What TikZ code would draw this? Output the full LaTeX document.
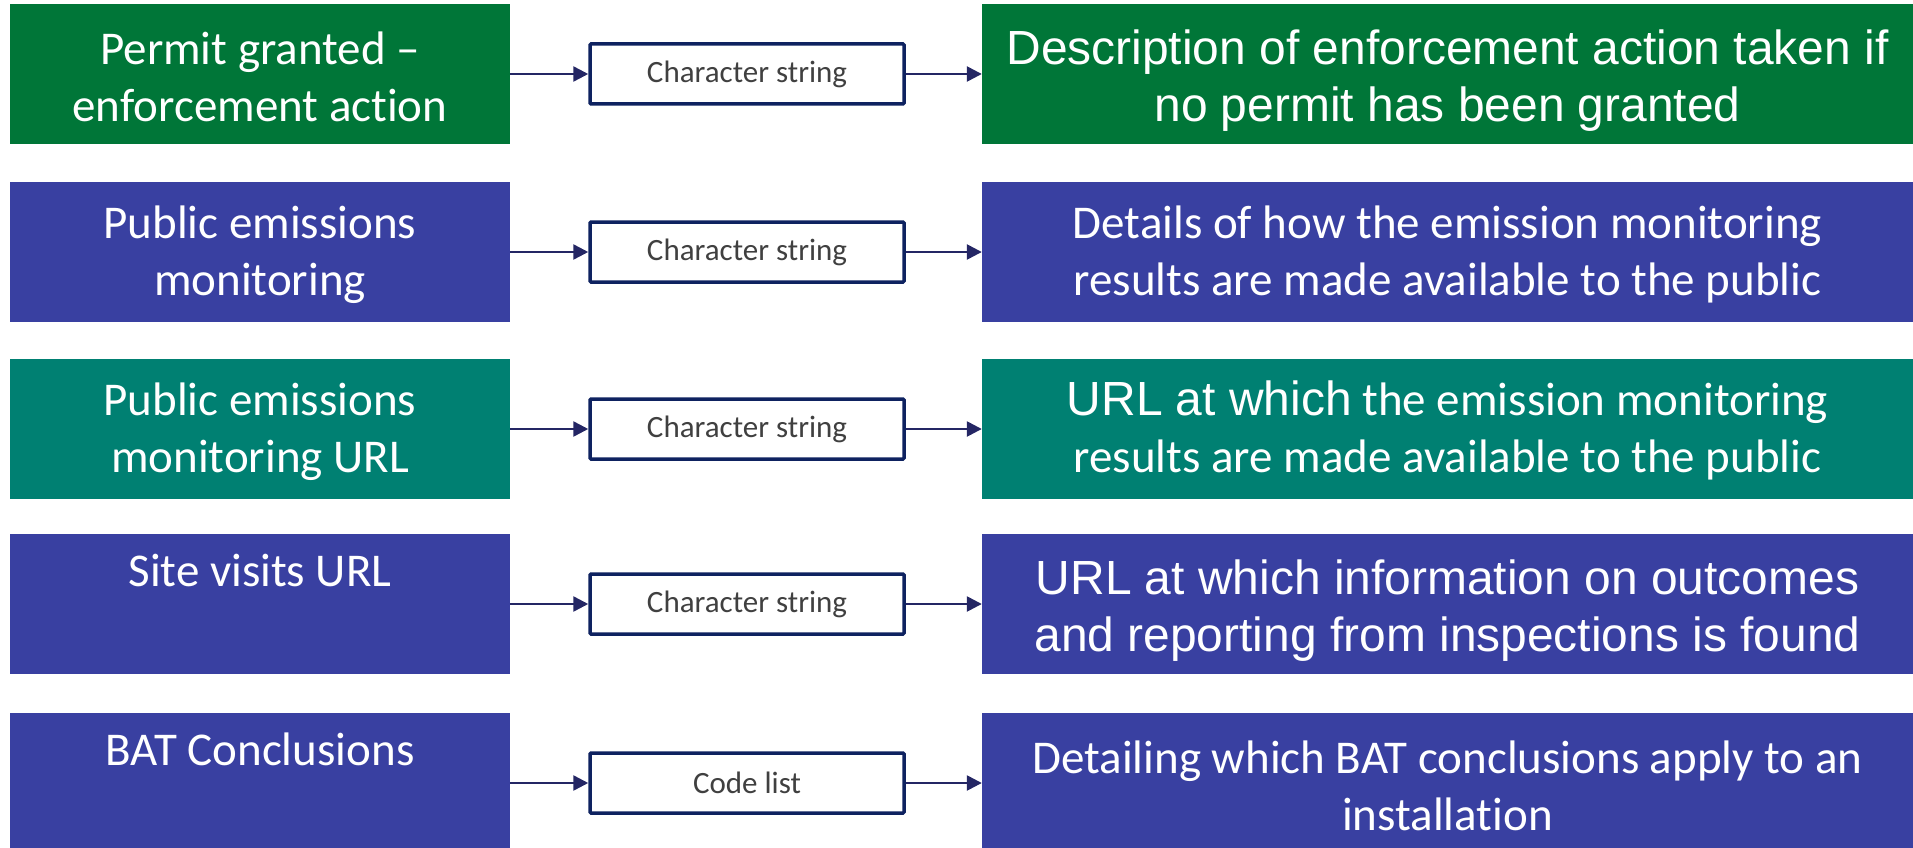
\documentclass[tikz,border=0pt]{standalone}
\usepackage{fontspec}
\setmainfont{Carlito}[Ligatures=NoCommon]
\newfontfamily\arialfont{Liberation Sans}[Scale=1.02]
\usetikzlibrary{arrows.meta, positioning}
\definecolor{permitgreen}{RGB}{0,118,56}
\definecolor{eeablue}{RGB}{57,64,161}
\definecolor{urlteal}{RGB}{0,128,114}
\definecolor{boxnavy}{RGB}{14,34,96}
\definecolor{arrownavy}{RGB}{36,38,100}
\definecolor{typegray}{RGB}{64,64,64}
% line-1 struts, so the text sits as low as in the slide
\newcommand{\capstrut}{\rule{0pt}{0.82em}}
\newcommand{\tallstrut}{\rule{0pt}{1em}}

\tikzset{
  namebox/.style={fill=#1, text=white, inner sep=0pt, minimum width=500pt, minimum height=140pt,
    align=center, font=\fontsize{47}{57}\selectfont},
  descbox/.style={fill=#1, text=white, inner sep=0pt, minimum width=931pt, minimum height=140pt,
    align=center, font=\fontsize{47}{57}\selectfont},
  typebox/.style={draw=boxnavy, line width=3.5pt, fill=white, rounded corners=1pt, inner sep=0pt,
    minimum width=314pt, minimum height=60pt, text=typegray, font=\fontsize{31}{37}\selectfont},
  link/.style={draw=arrownavy, line width=2.5pt, -{Triangle[length=15pt, width=15pt]}}
}

\begin{document}
\begin{tikzpicture}[x=1pt, y=-1pt]
  \useasboundingbox (0,0) rectangle (1913,848);
  \clip (0,0) rectangle (1913,848);
  \foreach \n/\y/\c/\lbl/\typ/\dsc in {
    1/74/permitgreen/{Permit granted --\\enforcement action}/{Character string}/{\arialfont\tallstrut Description of enforcement action taken if\\\arialfont no permit has been granted},
    2/252/eeablue/{Public emissions\\monitoring}/{Character string}/{Details of how the emission monitoring\\results are made available to the public},
    3/429/urlteal/{Public emissions\\monitoring URL}/{Character string}/{{\arialfont URL at which} the emission monitoring\\results are made available to the public},
    4/604/eeablue/{Site visits URL\\\strut}/{Character string}/{\arialfont\tallstrut URL at which information on outcomes\\\arialfont and reporting from inspections is found},
    5/783/eeablue/{BAT Conclusions\\\strut}/{Code list}/{Detailing which BAT conclusions apply to an\\installation}} {
    \node[namebox=\c] (lbl\n) at (260,\y) {\capstrut\lbl};
    \node[typebox] (type\n) at (747,\y) {\typ};
    \node[descbox=\c] (desc\n) at (1447.5,\y) {\capstrut\dsc};
    \draw[link] (lbl\n) -- (type\n);
    \draw[link] (type\n) -- (desc\n);
  }
\end{tikzpicture}
\end{document}
